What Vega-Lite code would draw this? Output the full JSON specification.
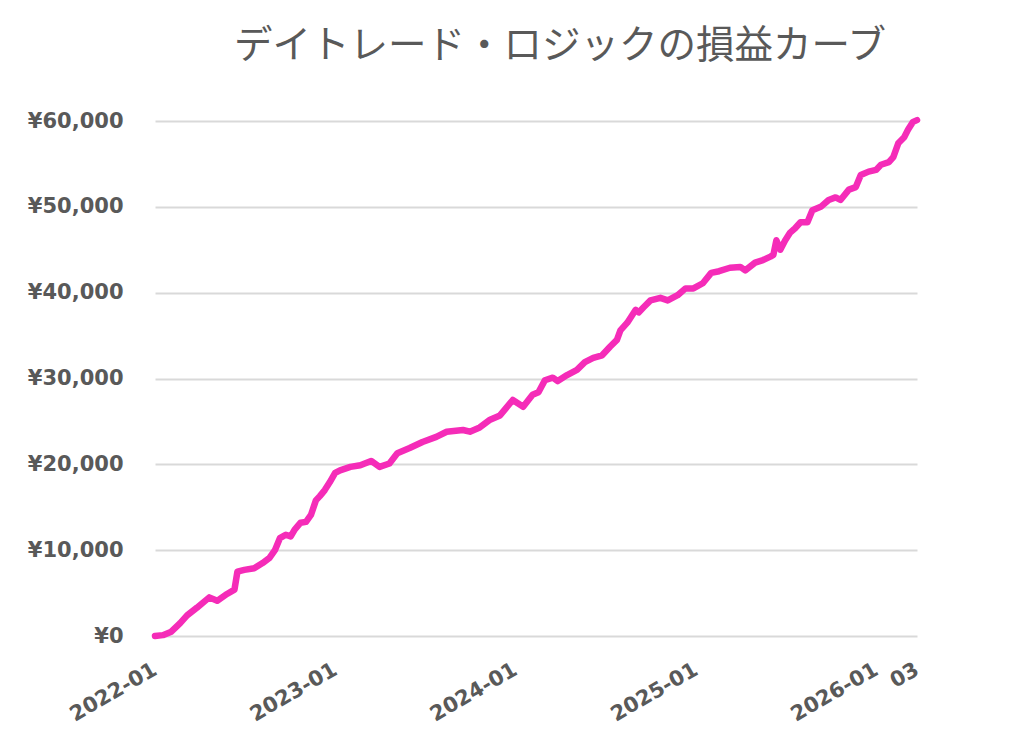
{
  "$schema": "https://vega.github.io/schema/vega-lite/v6.json",
  "autosize": "none",
  "width": 762,
  "height": 515,
  "padding": {"left": 155, "top": 121, "right": 107, "bottom": 111},
  "background": "white",
  "title": {
    "text": "デイトレード・ロジックの損益カーブ",
    "font": "Noto Sans CJK JP",
    "fontSize": 38.5,
    "fontWeight": "normal",
    "color": "#595959",
    "anchor": "middle",
    "dx": 24,
    "offset": 44
  },
  "config": {"view": {"stroke": null}},
  "data": {
    "values": [
      {"date": "2022-01-01", "pnl": 0},
      {"date": "2022-01-17", "pnl": 100},
      {"date": "2022-02-03", "pnl": 500},
      {"date": "2022-02-21", "pnl": 1500},
      {"date": "2022-03-07", "pnl": 2400},
      {"date": "2022-03-27", "pnl": 3300},
      {"date": "2022-04-21", "pnl": 4500},
      {"date": "2022-05-07", "pnl": 4100},
      {"date": "2022-05-27", "pnl": 4900},
      {"date": "2022-06-11", "pnl": 5400},
      {"date": "2022-06-17", "pnl": 7500},
      {"date": "2022-07-01", "pnl": 7700},
      {"date": "2022-07-21", "pnl": 7900},
      {"date": "2022-08-07", "pnl": 8500},
      {"date": "2022-08-21", "pnl": 9100},
      {"date": "2022-09-01", "pnl": 10000},
      {"date": "2022-09-11", "pnl": 11400},
      {"date": "2022-09-23", "pnl": 11800},
      {"date": "2022-10-03", "pnl": 11600},
      {"date": "2022-10-11", "pnl": 12400},
      {"date": "2022-10-23", "pnl": 13200},
      {"date": "2022-11-03", "pnl": 13300},
      {"date": "2022-11-13", "pnl": 14100},
      {"date": "2022-11-23", "pnl": 15800},
      {"date": "2022-12-01", "pnl": 16300},
      {"date": "2022-12-11", "pnl": 17000},
      {"date": "2022-12-21", "pnl": 17900},
      {"date": "2023-01-01", "pnl": 19000},
      {"date": "2023-01-11", "pnl": 19300},
      {"date": "2023-02-01", "pnl": 19700},
      {"date": "2023-02-21", "pnl": 19900},
      {"date": "2023-03-15", "pnl": 20400},
      {"date": "2023-04-01", "pnl": 19700},
      {"date": "2023-04-21", "pnl": 20100},
      {"date": "2023-05-07", "pnl": 21300},
      {"date": "2023-06-01", "pnl": 21900},
      {"date": "2023-06-27", "pnl": 22600},
      {"date": "2023-07-25", "pnl": 23200},
      {"date": "2023-08-15", "pnl": 23800},
      {"date": "2023-09-17", "pnl": 24000},
      {"date": "2023-10-01", "pnl": 23800},
      {"date": "2023-10-21", "pnl": 24300},
      {"date": "2023-11-11", "pnl": 25200},
      {"date": "2023-12-01", "pnl": 25700},
      {"date": "2023-12-27", "pnl": 27500},
      {"date": "2024-01-17", "pnl": 26700},
      {"date": "2024-02-05", "pnl": 28100},
      {"date": "2024-02-17", "pnl": 28400},
      {"date": "2024-03-01", "pnl": 29800},
      {"date": "2024-03-17", "pnl": 30100},
      {"date": "2024-03-27", "pnl": 29700},
      {"date": "2024-04-15", "pnl": 30400},
      {"date": "2024-05-05", "pnl": 31000},
      {"date": "2024-05-21", "pnl": 31900},
      {"date": "2024-06-07", "pnl": 32400},
      {"date": "2024-06-25", "pnl": 32700},
      {"date": "2024-07-11", "pnl": 33700},
      {"date": "2024-07-25", "pnl": 34500},
      {"date": "2024-08-01", "pnl": 35600},
      {"date": "2024-08-15", "pnl": 36500},
      {"date": "2024-09-01", "pnl": 38000},
      {"date": "2024-09-07", "pnl": 37700},
      {"date": "2024-09-17", "pnl": 38300},
      {"date": "2024-10-01", "pnl": 39100},
      {"date": "2024-10-21", "pnl": 39400},
      {"date": "2024-11-05", "pnl": 39100},
      {"date": "2024-11-25", "pnl": 39700},
      {"date": "2024-12-11", "pnl": 40500},
      {"date": "2024-12-27", "pnl": 40500},
      {"date": "2025-01-15", "pnl": 41100},
      {"date": "2025-02-01", "pnl": 42300},
      {"date": "2025-02-17", "pnl": 42500},
      {"date": "2025-03-11", "pnl": 42900},
      {"date": "2025-04-01", "pnl": 43000},
      {"date": "2025-04-11", "pnl": 42600},
      {"date": "2025-05-01", "pnl": 43500},
      {"date": "2025-05-17", "pnl": 43800},
      {"date": "2025-06-01", "pnl": 44200},
      {"date": "2025-06-07", "pnl": 44400},
      {"date": "2025-06-13", "pnl": 46100},
      {"date": "2025-06-21", "pnl": 45000},
      {"date": "2025-07-01", "pnl": 46100},
      {"date": "2025-07-11", "pnl": 47000},
      {"date": "2025-07-21", "pnl": 47500},
      {"date": "2025-08-01", "pnl": 48200},
      {"date": "2025-08-15", "pnl": 48200},
      {"date": "2025-08-25", "pnl": 49600},
      {"date": "2025-09-11", "pnl": 50000},
      {"date": "2025-09-27", "pnl": 50800},
      {"date": "2025-10-11", "pnl": 51100},
      {"date": "2025-10-21", "pnl": 50800},
      {"date": "2025-11-07", "pnl": 52000},
      {"date": "2025-11-21", "pnl": 52300},
      {"date": "2025-12-01", "pnl": 53700},
      {"date": "2025-12-17", "pnl": 54100},
      {"date": "2026-01-01", "pnl": 54300},
      {"date": "2026-01-11", "pnl": 54900},
      {"date": "2026-01-27", "pnl": 55200},
      {"date": "2026-02-05", "pnl": 55800},
      {"date": "2026-02-15", "pnl": 57400},
      {"date": "2026-02-27", "pnl": 58100},
      {"date": "2026-03-07", "pnl": 59000},
      {"date": "2026-03-17", "pnl": 59900},
      {"date": "2026-03-25", "pnl": 60100}
    ]
  },
  "mark": {
    "type": "line",
    "color": "#f52cb8",
    "strokeWidth": 6.5,
    "strokeCap": "round",
    "strokeJoin": "round"
  },
  "encoding": {
    "x": {
      "field": "date",
      "type": "temporal",
      "title": null,
      "scale": {
        "type": "utc",
        "domain": [
          {"year": 2022, "month": 1, "date": 1, "utc": true},
          {"year": 2026, "month": 3, "date": 25, "utc": true}
        ]
      },
      "axis": {
        "values": [
          {"year": 2022, "month": 1, "date": 1, "utc": true},
          {"year": 2023, "month": 1, "date": 1, "utc": true},
          {"year": 2024, "month": 1, "date": 1, "utc": true},
          {"year": 2025, "month": 1, "date": 1, "utc": true},
          {"year": 2026, "month": 1, "date": 1, "utc": true},
          {"year": 2026, "month": 3, "date": 25, "utc": true}
        ],
        "labelExpr": "utcFormat(datum.value, '%m') == '01' ? utcFormat(datum.value, '%Y-%m') : utcFormat(datum.value, '%m')",
        "labelAngle": -30,
        "labelAlign": "right",
        "labelBaseline": "middle",
        "labelFont": "DejaVu Sans",
        "labelFontWeight": "bold",
        "labelFontSize": 21,
        "labelColor": "#595959",
        "labelPadding": 32,
        "labelOverlap": false,
        "labelFlush": false,
        "domain": false,
        "ticks": false,
        "grid": false
      }
    },
    "y": {
      "field": "pnl",
      "type": "quantitative",
      "title": null,
      "scale": {"domain": [0, 60000], "nice": false, "zero": true},
      "axis": {
        "values": [0, 10000, 20000, 30000, 40000, 50000, 60000],
        "labelExpr": "'¥' + format(datum.value, ',')",
        "labelFont": "DejaVu Sans",
        "labelFontWeight": "bold",
        "labelFontSize": 21,
        "labelColor": "#595959",
        "labelPadding": 32,
        "domain": false,
        "ticks": false,
        "grid": true,
        "gridColor": "#d9d9d9",
        "gridWidth": 2
      }
    }
  }
}
